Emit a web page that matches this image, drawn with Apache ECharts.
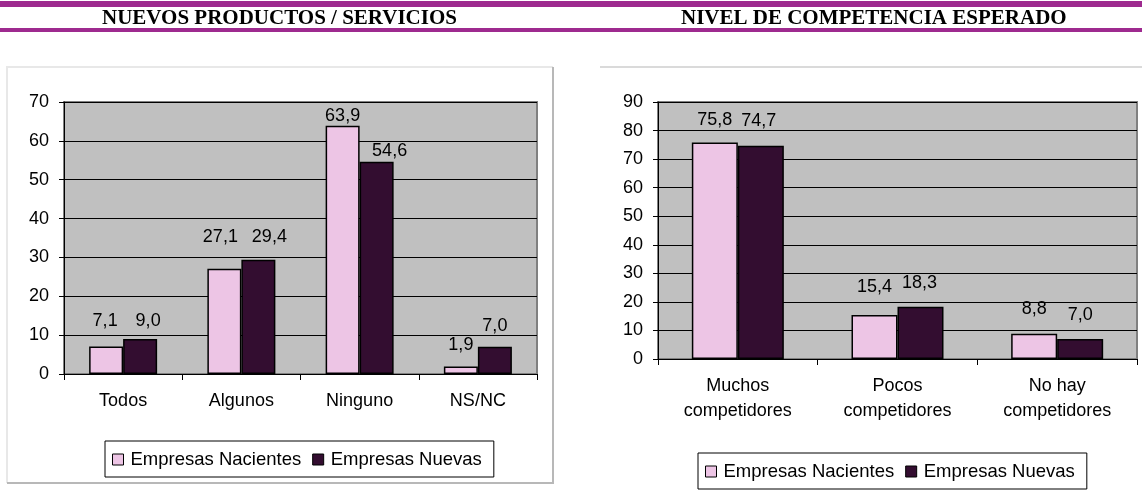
<!DOCTYPE html>
<html><head><meta charset="utf-8">
<script src="https://cdn.jsdelivr.net/npm/echarts@6/dist/echarts.min.js"></script>
<style>html,body{margin:0;padding:0;background:#fff}#c{width:1142px;height:493px}</style>
</head><body><div id="c"></div>
<script>
const seriesNames = ['Empresas Nacientes', 'Empresas Nuevas'];
const headings = ['NUEVOS PRODUCTOS / SERVICIOS', 'NIVEL DE COMPETENCIA ESPERADO'];

const leftCategories = ['Todos', 'Algunos', 'Ninguno', 'NS/NC'];
const leftNacientes = [7.1, 27.1, 63.9, 1.9];
const leftNuevas = [9.0, 29.4, 54.6, 7.0];
const leftAxis = { min: 0, max: 70, interval: 10 };

const rightCategories = ['Muchos\ncompetidores', 'Pocos\ncompetidores', 'No hay\ncompetidores'];
const rightNacientes = [75.8, 15.4, 8.8];
const rightNuevas = [74.7, 18.3, 7.0];
const rightAxis = { min: 0, max: 90, interval: 10 };

// label placement as in the original: distance above bar top and horizontal shift (px)
const leftNacDist = [16, 23, 1, 13];
const leftNueDist = [9, 14, 2, 12];
const leftNacShift = [-1, -4, 0, 0];
const leftNueShift = [8, 11, 13, 0];
const rightNacDist = [14, 19, 16];
const rightNueDist = [16, 15, 15];
const rightNacShift = [0, 0, 0];
const rightNueShift = [-2, -1, 0];

const PINK = '#EDC5E5', DARK = '#330D30', PURPLE = '#9E2A8F';
const FONT = '"Liberation Sans", Arial, sans-serif';
const SERIF = '"Liberation Serif", "Times New Roman", serif';

const fmt = v => v.toFixed(1).replace('.', ',');
const mk = (vals, dists, shifts) => vals.map((v, i) => ({ value: v, label: { distance: dists[i], offset: [shifts[i], 0] } }));

function yAxis(idx, ax) {
  return {
    type: 'value', gridIndex: idx, min: ax.min, max: ax.max, interval: ax.interval,
    axisLine: { show: true, lineStyle: { color: '#000', width: 1 } },
    axisTick: { show: true, length: 5, lineStyle: { color: '#000' } },
    splitLine: { show: true, lineStyle: { color: '#000', width: 1 } },
    axisLabel: { color: '#000', fontSize: 18, fontFamily: FONT, margin: 15 }
  };
}
function xAxis(idx, cats, margin) {
  return {
    type: 'category', gridIndex: idx, data: cats,
    axisLine: { show: true, lineStyle: { color: '#000', width: 1 } },
    axisTick: { show: true, length: 6, alignWithLabel: false, lineStyle: { color: '#000' } },
    axisLabel: { color: '#000', fontSize: 18, fontFamily: FONT, margin: margin, lineHeight: 25, interval: 0 }
  };
}
function bar(name, idx, data, color, w) {
  return {
    type: 'bar', name: name, xAxisIndex: idx, yAxisIndex: idx, data: data,
    barWidth: w, barGap: '0%',
    itemStyle: { color: color, borderColor: '#000', borderWidth: 1.5 },
    label: { show: true, position: 'top', color: '#000', fontSize: 18, fontFamily: FONT, formatter: p => fmt(p.value) },
    emphasis: { disabled: true }, animation: false
  };
}
function legend(left, top) {
  return {
    left: left, top: top, orient: 'horizontal',
    data: seriesNames.map((n, i) => ({ name: n, itemStyle: { color: i ? DARK : PINK, borderColor: '#000', borderWidth: 1 } })),
    icon: 'rect', itemWidth: 11, itemHeight: 11, itemGap: 11,
    textStyle: { color: '#000', fontSize: 18.5, fontFamily: FONT, padding: [0, 0, 0, 2] },
    borderColor: '#000', borderWidth: 1, padding: [9, 12, 8, 7], backgroundColor: '#fff',
    selectedMode: false
  };
}

const chart = echarts.init(document.getElementById('c'), null, { renderer: 'canvas' });
chart.setOption({
  animation: false,
  backgroundColor: '#fff',
  grid: [
    { left: 64, top: 102, width: 473, height: 272, show: true, backgroundColor: '#C0C0C0', borderColor: '#808080', borderWidth: 2 },
    { left: 658, top: 102, width: 479, height: 257, show: true, backgroundColor: '#C0C0C0', borderColor: '#808080', borderWidth: 2 }
  ],
  xAxis: [xAxis(0, leftCategories, 15), xAxis(1, rightCategories, 15)],
  yAxis: [yAxis(0, leftAxis), yAxis(1, rightAxis)],
  legend: [legend(105, 441), legend(698, 453)],
  series: [
    bar(seriesNames[0], 0, mk(leftNacientes, leftNacDist, leftNacShift), PINK, 34),
    bar(seriesNames[1], 0, mk(leftNuevas, leftNueDist, leftNueShift), DARK, 34),
    bar(seriesNames[0], 1, mk(rightNacientes, rightNacDist, rightNacShift), PINK, 46),
    bar(seriesNames[1], 1, mk(rightNuevas, rightNueDist, rightNueShift), DARK, 46)
  ],
  graphic: [
    { type: 'rect', shape: { x: 0, y: 1, width: 1142, height: 6 }, style: { fill: PURPLE }, silent: true },
    { type: 'rect', shape: { x: 0, y: 28, width: 1142, height: 4 }, style: { fill: PURPLE }, silent: true },
    { type: 'text', left: 102, top: 8, style: { text: headings[0], fill: '#000', font: 'bold 21px ' + SERIF }, silent: true },
    { type: 'text', left: 681, top: 8, style: { text: headings[1], fill: '#000', font: 'bold 21px ' + SERIF }, silent: true },
    { type: 'polyline', shape: { points: [[7, 483], [7, 67], [553, 67]] }, style: { stroke: '#E8E8E8', lineWidth: 2, fill: null }, silent: true },
    { type: 'polyline', shape: { points: [[553, 67], [553, 483], [7, 483]] }, style: { stroke: '#B8B8B8', lineWidth: 2, fill: null }, silent: true },
    { type: 'line', shape: { x1: 600, y1: 67, x2: 1142, y2: 67 }, style: { stroke: '#DADADA', lineWidth: 2 }, silent: true }
  ]
});
</script></body></html>
